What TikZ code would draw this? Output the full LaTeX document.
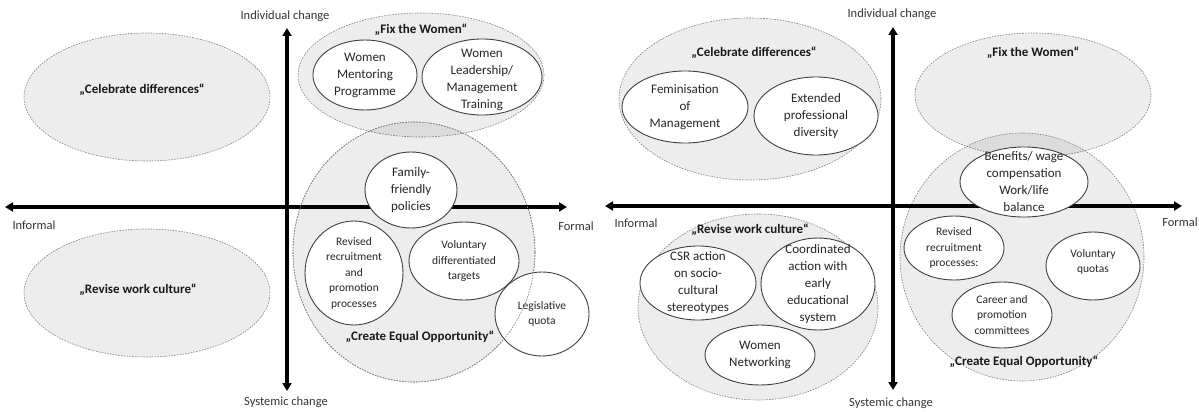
\documentclass[tikz,border=0pt]{standalone}
\usepackage{fontspec}
\setmainfont{Carlito}
\usetikzlibrary{shapes.geometric,arrows.meta}

\begin{document}
\begin{tikzpicture}
      [x=1pt, y=-1pt,
      dims/.style 2 args={minimum width=#1pt, minimum height=#2pt},
      group/.style={ellipse, inner sep=0pt, draw=black!50, dash pattern=on 1.6pt off 1.2pt, line width=0.6pt, fill=black, fill opacity=0.07},
      groupline/.style={draw=black!50, dash pattern=on 1.6pt off 1.2pt, line width=0.6pt},
      bubble/.style={ellipse, inner sep=0pt, draw=black!75, line width=0.9pt, fill=white},
      big/.style={font=\fontsize{13}{17}\selectfont, align=center, text=black!85},
      small/.style={font=\fontsize{11.5}{15.5}\selectfont, align=center, text=black!85},
      title/.style={font=\fontsize{13}{16}\selectfont\bfseries, text=black!90},
      axislabel/.style={font=\fontsize{12.5}{15}\selectfont, text=black!80},
      axis/.style={line width=3.2pt, {Triangle[length=8pt,width=9pt]}-{Triangle[length=8pt,width=9pt]}},
      ]
      \useasboundingbox (0,0) rectangle (1199,412);

      % left map: groups
      \node (celebL) [group, dims={246}{128}] at (147,97) {};
      \node (reviseL) [group, dims={246}{128}] at (147,293) {};
      \node (fixL) [group, dims={246}{124}] at (421,75) {};
      \node (eqL) [group, dims={242}{260}] at (414,252) {};

      % right map: groups
      \node (celebR) [group, dims={262}{162}] at (750,99) {};
      \node (reviseR) [group, dims={240}{186}] at (758,307) {};
      \node (fixR) [group, dims={236}{124}] at (1033,95) {};
      \node (eqR) [group, dims={244}{248}] at (1022,257) {};

      % axes
      \coordinate (wL) at (5,207);
      \coordinate (eL) at (567,207);
      \coordinate (nL) at (287,28);
      \coordinate (sL) at (287,391);
      \coordinate (wR) at (605,206);
      \coordinate (eR) at (1182,206);
      \coordinate (nR) at (893,27);
      \coordinate (sR) at (893,390);
      \draw[axis] (wL) -- (eL);
      \draw[axis] (nL) -- (sL);
      \draw[axis] (wR) -- (eR);
      \draw[axis] (nR) -- (sR);

      \node[axislabel] (indL) at (285,16) {Individual change};
      \node[axislabel] (sysL) at (286,402) {Systemic change};
      \node[axislabel] (infL) at (34,225) {Informal};
      \node[axislabel] (forL) at (576,226) {Formal};
      \node[axislabel] (indR) at (892,14) {Individual change};
      \node[axislabel] (sysR) at (891,403) {Systemic change};
      \node[axislabel] (infR) at (636,223) {Informal};
      \node[axislabel] (forR) at (1180,222) {Formal};

      % left map: measures
      \node (mentor) [bubble, dims={104}{70}, label={[big]center:{Women\\Mentoring\\Programme}}] at (365,75) {};
      \node (leader) [bubble, dims={120}{76}, label={[big, yshift=-3pt]center:{Women\\Leadership/\\Management\\Training}}] at (482,77) {};
      \node (family) [bubble, dims={92}{76}, label={[big]center:{Family-\\friendly\\policies}}] at (411,190) {};
      \node (recruitL) [bubble, dims={98}{104}, label={[small]center:{Revised\\recruitment\\and\\promotion\\processes}}] at (354,273) {};
      \node (voldiff) [bubble, dims={110}{78}, label={[small]center:{Voluntary\\differentiated\\targets}}] at (464,261) {};
      \node (legis) [bubble, dims={94}{84}, label={[small]center:{Legislative\\quota}}] at (542,314) {};
      \draw[groupline] (eqL.center) ellipse [x radius=121pt, y radius=130pt];

      % right map: measures
      \node (femin) [bubble, dims={126}{72}, label={[big]center:{Feminisation\\of\\Management}}] at (685,107) {};
      \node (extend) [bubble, dims={124}{78}, label={[big]center:{Extended\\professional\\diversity}}] at (816,116) {};
      \node (benefit) [bubble, dims={128}{70}, label={[big]center:{Benefits/ wage\\compensation\\Work/life\\balance}}] at (1024,182) {};
      \node (csr) [bubble, dims={116}{74}, label={[big]center:{CSR action\\on socio-\\cultural\\stereotypes}}] at (698,283) {};
      \node (coord) [bubble, dims={114}{92}, label={[big]center:{Coordinated\\action with\\early\\educational\\system}}] at (818,284) {};
      \node (network) [bubble, dims={110}{60}, label={[big]center:{Women\\Networking}}] at (760,355) {};
      \node (recruitR) [bubble, dims={100}{64}, label={[small]center:{Revised\\recruitment\\processes:}}] at (954,248) {};
      \node (volquota) [bubble, dims={94}{68}, label={[small, yshift=4pt]center:{Voluntary\\quotas}}] at (1093,266) {};
      \node (career) [bubble, dims={100}{66}, label={[small]center:{Career and\\promotion\\committees}}] at (1002,315) {};

      % group titles
      \node[title] (celebLt) at (142,90) {„Celebrate differences“};
      \node[title] (reviseLt) at (138,290) {„Revise work culture“};
      \node[title] (fixLt) at (421,30) {„Fix the Women“};
      \node[title] (eqLt) at (420,337) {„Create Equal Opportunity“};
      \node[title] (celebRt) at (754,53) {„Celebrate differences“};
      \node[title] (fixRt) at (1033,53) {„Fix the Women“};
      \node[title] (reviseRt) at (750,230) {„Revise work culture“};
      \node[title] (eqRt) at (1024,362) {„Create Equal Opportunity“};
      \end{tikzpicture}
\end{document}
